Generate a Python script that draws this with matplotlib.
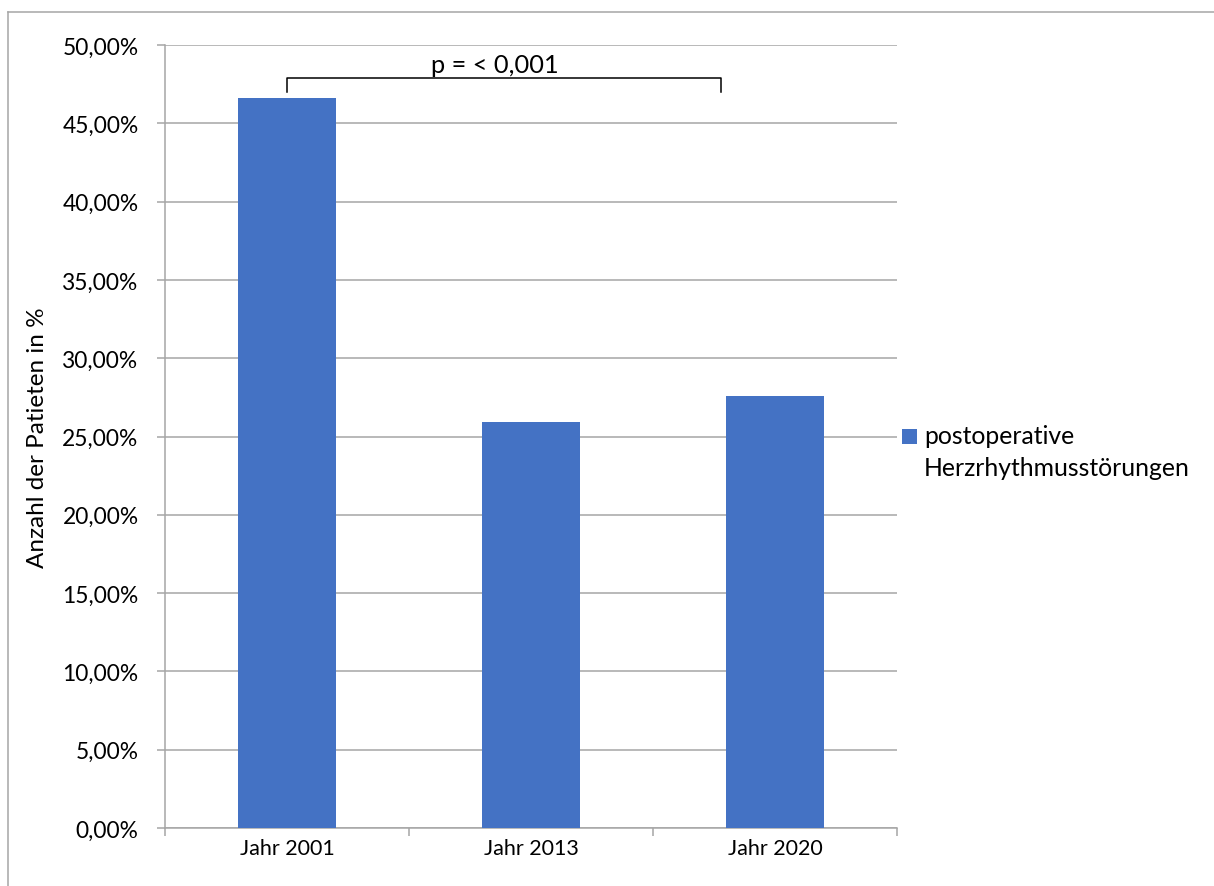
import matplotlib
matplotlib.use("Agg")
import matplotlib.pyplot as plt
from matplotlib.patches import Rectangle
from matplotlib.legend_handler import HandlerPatch
from matplotlib.lines import Line2D
from matplotlib.ticker import FuncFormatter, MultipleLocator

plt.rcParams['font.family'] = ['Lato', 'DejaVu Sans']

# Anteil Patienten mit postoperativen Herzrhythmusstörungen
jahre = ["Jahr 2001", "Jahr 2013", "Jahr 2020"]
anteil = [0.466, 0.259, 0.276]
serie = "postoperative\nHerzrhythmusstörungen"
p_text = "p = < 0,001"

blau = "#4472C4"
grau = "#a6a6a6"

fig = plt.figure(figsize=(12.14, 8.87), dpi=100)
ax = fig.add_axes([0.1359, 0.0654, 0.603, 0.8827])

x = list(range(len(jahre)))
bars = ax.bar(x, anteil, width=0.4, color=blau, label=serie, zorder=3)

ax.set_xlim(-0.5, len(jahre) - 0.5)
ax.set_ylim(0, 0.5)
ax.yaxis.set_major_locator(MultipleLocator(0.05))
ax.yaxis.set_major_formatter(FuncFormatter(lambda v, _: f"{v*100:.2f}%".replace(".", ",")))
ax.grid(axis="y", color=grau, linewidth=1.1, zorder=0)

for s in ["top", "right"]:
    ax.spines[s].set_visible(False)
for s in ["left", "bottom"]:
    ax.spines[s].set_color(grau)
    ax.spines[s].set_linewidth(1.1)

# Kategorien mittig, Striche an den Grenzen
ax.set_xticks(x)
ax.set_xticklabels(jahre)
ax.set_xticks([i - 0.5 for i in range(len(jahre) + 1)], minor=True)
ax.tick_params(axis="x", which="major", length=0, pad=7, labelsize=15.5)
ax.tick_params(axis="x", which="minor", length=6, color=grau, width=1.1)
ax.tick_params(axis="y", length=6, color=grau, width=1.1, pad=13, labelsize=16.4)

ax.set_ylabel("Anzahl der Patieten in %", fontsize=17.5)
ax.yaxis.set_label_coords(-0.16, 0.5)

# Signifikanzklammer
y_b, y_s = 0.479, 0.470
ax.plot([0, 0, 1.78, 1.78], [y_s, y_b, y_b, y_s], color="black", linewidth=1.1, zorder=4)
ax.text(0.85, y_b + 0.001, p_text, ha="center", va="bottom", fontsize=18.3)


def quadrat(legend, orig_handle, xdescent, ydescent, width, height, fontsize):
    # kleines Quadrat auf Höhe der ersten Textzeile
    s = 10.5
    return Rectangle((-xdescent + width - s, -ydescent + height / 2 - s / 2 + 11.2), s, s)


leg = ax.legend(handles=[bars.patches[0]], labels=[serie],
                loc="center left", bbox_to_anchor=(1.0, 0.481), frameon=False,
                fontsize=17.8, handlelength=0.8, handletextpad=0.3, borderpad=0,
                borderaxespad=0,
                handler_map={Rectangle: HandlerPatch(patch_func=quadrat)})
leg.get_texts()[0].set_linespacing(1.45)

# Rahmen um das Diagramm
fig.add_artist(Line2D([8 / 1214, 8 / 1214], [0, 1 - 13 / 887], color=grau, linewidth=1.1))
fig.add_artist(Line2D([8 / 1214, 1], [1 - 13 / 887, 1 - 13 / 887], color=grau, linewidth=1.1))

fig.savefig("out.png", dpi=100)
